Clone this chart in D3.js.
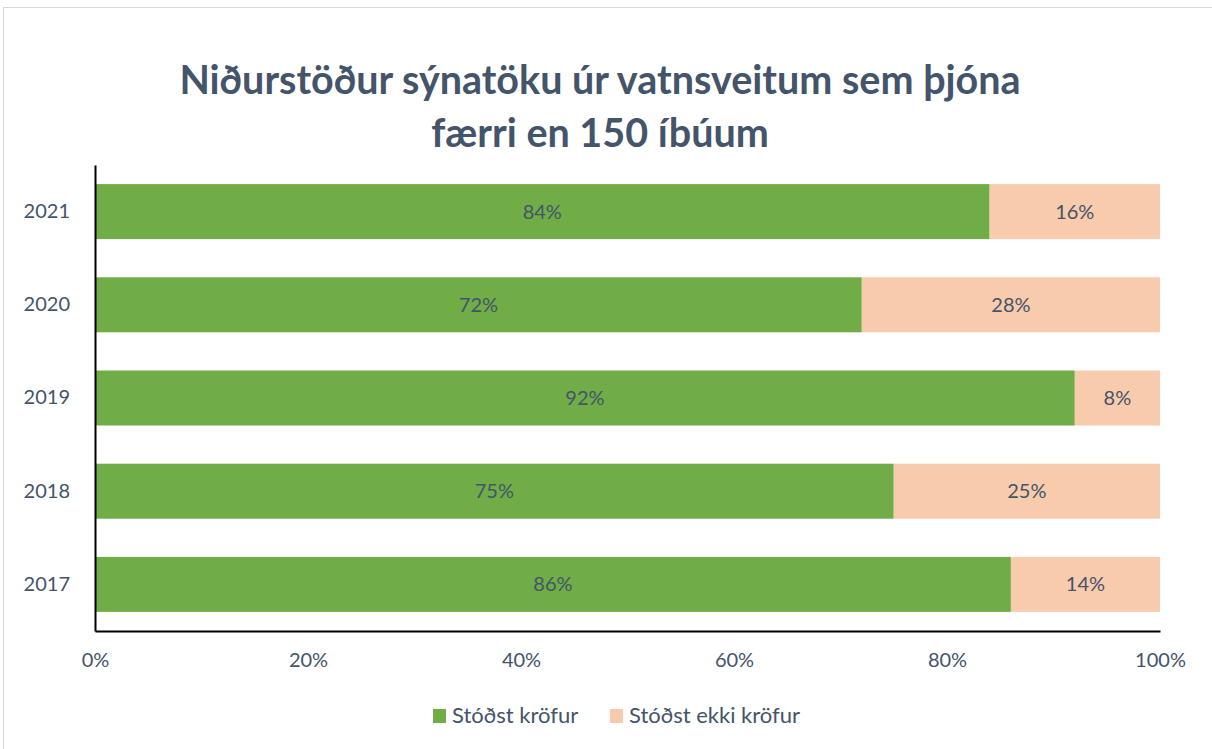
<!DOCTYPE html>
<html><head><meta charset="utf-8">
<script src="https://cdn.jsdelivr.net/npm/d3@7"></script>
<style>body{margin:0;background:#fff;} svg{display:block;}</style>
</head><body>
<svg id="c" width="1212" height="749"></svg>
<script>
const years = ["2021","2020","2019","2018","2017"];
const passed = [84,72,92,75,86];
const failed = [16,28,8,25,14];
const seriesNames = ["Stóðst kröfur","Stóðst ekki kröfur"];
const xTicks = [0,20,40,60,80,100];
const titleLines = ["Niðurstöður sýnatöku úr vatnsveitum sem þjóna","færri en 150 íbúum"];

const colors = ["#70ad47","#f8cbad"];
const textCol = "#44546a";
const font = "Lato, 'Open Sans', sans-serif";
const svg = d3.select("#c");
svg.append("rect").attr("x",3.5).attr("y",7.5).attr("width",1220).attr("height",760)
  .attr("fill","#fff").attr("stroke","#d9d9d9");

const x = d3.scaleLinear().domain([0,100]).range([95,1160]);
const y = d3.scaleBand().domain(years).range([165,631]).paddingInner(0.41).paddingOuter(0.205);

svg.selectAll(".t").data(titleLines).enter().append("text")
  .attr("x",600).attr("y",(d,i)=>94+i*53).attr("text-anchor","middle")
  .attr("font-family",font).attr("font-weight","bold").attr("font-size",39.5)
  .attr("fill",textCol).text(d=>d);

const rows = years.map((yr,i)=>({yr, vals:[passed[i],failed[i]]}));
rows.forEach(r=>{
  let acc=0;
  r.vals.forEach((v,j)=>{
    svg.append("rect").attr("x",x(acc)).attr("y",y(r.yr)).attr("width",x(acc+v)-x(acc))
      .attr("height",y.bandwidth()).attr("fill",colors[j]);
    svg.append("text").attr("x",(x(acc)+x(acc+v))/2).attr("y",y(r.yr)+y.bandwidth()/2+7)
      .attr("text-anchor","middle").attr("font-family",font).attr("font-size",20)
      .attr("fill",textCol).text(v+"%");
    acc+=v;
  });
});

const xa = svg.append("g").attr("transform","translate(0,631)")
  .call(d3.axisBottom(x).tickValues(xTicks).tickFormat(d=>d+"%").tickSize(0).tickPadding(22));
xa.select(".domain").attr("stroke","#000").attr("stroke-width",2);
xa.selectAll("text").attr("font-family",font).attr("font-size",20).attr("fill",textCol);

const ya = svg.append("g").attr("transform","translate(95,0)")
  .call(d3.axisLeft(y).tickSize(0).tickPadding(25));
ya.select(".domain").attr("stroke","#000").attr("stroke-width",2);
ya.selectAll("text").attr("font-family",font).attr("font-size",20).attr("fill",textCol);

const leg = [{x:433},{x:610}];
seriesNames.forEach((n,i)=>{
  svg.append("rect").attr("x",leg[i].x).attr("y",709).attr("width",13).attr("height",14).attr("fill",colors[i]);
  svg.append("text").attr("x",leg[i].x+19).attr("y",723).attr("font-family",font).attr("font-size",22)
    .attr("fill",textCol).text(n);
});
</script>
</body></html>
